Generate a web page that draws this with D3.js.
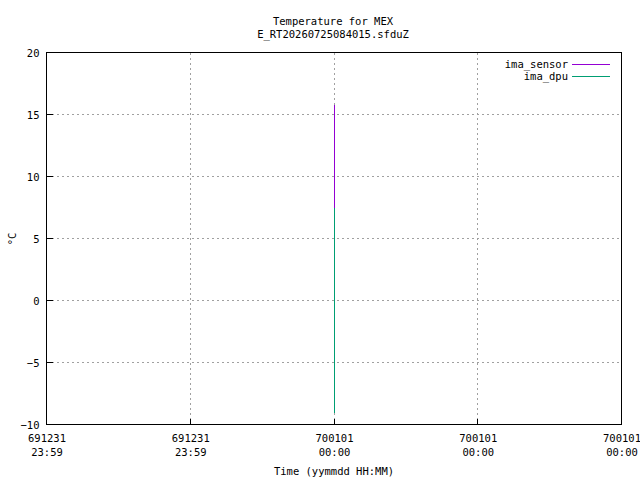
<!DOCTYPE html>
<html><head><meta charset="utf-8">
<script src="https://cdn.jsdelivr.net/npm/d3@7"></script>
<style>body{margin:0;background:#fff}text{font-family:"DejaVu Sans Mono",monospace;font-size:10.5px;fill:#000}line,path,rect{shape-rendering:crispEdges}</style>
</head><body><svg id="c" width="640" height="480"></svg>
<script>
// data (seconds relative to 1970-01-01 00:00 UTC)
const xTicks = [-40, -20, 0, 20, 40];
const yTicks = [-10, -5, 0, 5, 10, 15, 20];
const sensorTimes = [0, 0];
const sensorValues = [15.8, 7.5];
const dpuTimes = [0, 0];
const dpuValues = [7.5, -9.1];
const seriesNames = ["ima_sensor", "ima_dpu"];
const seriesColors = ["#9400d3", "#009e73"];

const svg = d3.select("#c");
const L = 46.5, R = 621.5, T = 52.5, B = 424.5;
const x = d3.scaleLinear().domain([-40, 40]).range([L, R]);
const y = d3.scaleLinear().domain([-10, 20]).range([B, T]);
const fmtD = d3.utcFormat("%y%m%d"), fmtT = d3.utcFormat("%H:%M");

// grid
const g = svg.append("g");
g.selectAll(".gx").data(xTicks.slice(1, -1)).enter().append("line")
  .attr("x1", d => x(d)).attr("x2", d => x(d)).attr("y1", T).attr("y2", B)
  .attr("stroke", "#a0a0a0").attr("stroke-dasharray", "2,3");
g.selectAll(".gy").data(yTicks.slice(1, -1)).enter().append("line")
  .attr("x1", L).attr("x2", R).attr("y1", d => y(d)).attr("y2", d => y(d))
  .attr("stroke", "#a0a0a0").attr("stroke-dasharray", "2,3");

// axes via d3
const yAxis = d3.axisLeft(y).tickValues(yTicks).tickSize(0).tickPadding(7);
const ya = svg.append("g").attr("transform", `translate(${L},0)`).call(yAxis);
ya.select(".domain").remove();
ya.selectAll("text").style("font-family", "DejaVu Sans Mono").style("font-size", "10.5px").attr("dy", "0.35em");
const xAxis = d3.axisBottom(x).tickValues(xTicks).tickSize(0).tickFormat(() => "");
const xa = svg.append("g").attr("transform", `translate(0,${B})`).call(xAxis);
xa.select(".domain").remove();
xa.selectAll(".tick").each(function(d){
  const t = d3.select(this).select("text").text(null).attr("y", null).attr("dy", null);
  const dt = new Date(d * 1000);
  t.append("tspan").attr("x", 0).attr("y", 14).attr("dy", "0.35em").text(fmtD(dt));
  t.append("tspan").attr("x", 0).attr("y", 28).attr("dy", "0.35em").text(fmtT(dt));
});
xa.selectAll("text").style("font-family", "DejaVu Sans Mono").style("font-size", "10.5px");
// small ticks
svg.selectAll(".ty").data(yTicks).enter().append("line")
  .attr("x1", L).attr("x2", L + 6).attr("y1", d => y(d)).attr("y2", d => y(d)).attr("stroke", "#000");
svg.selectAll(".tx").data(xTicks).enter().append("line")
  .attr("x1", d => x(d)).attr("x2", d => x(d)).attr("y1", B).attr("y2", B - 6).attr("stroke", "#000");

// series
const line = d3.line().x(d => x(d[0])).y(d => y(d[1]));
const series = [d3.zip(sensorTimes, sensorValues), d3.zip(dpuTimes, dpuValues)];
series.forEach((s, i) => {
  svg.append("path").datum(s).attr("d", line).attr("fill", "none")
    .attr("stroke", seriesColors[i]).attr("stroke-width", 1);
});

// border
svg.append("rect").attr("x", L).attr("y", T).attr("width", R - L).attr("height", B - T)
  .attr("fill", "none").attr("stroke", "#000");

// legend
seriesNames.forEach((n, i) => {
  const ly = 64 + i * 12;
  svg.append("text").attr("x", 568).attr("y", ly).attr("dy", "0.35em").attr("text-anchor", "end").text(n);
  svg.append("line").attr("x1", 572).attr("x2", 610).attr("y1", ly).attr("y2", ly)
    .attr("stroke", seriesColors[i]).attr("stroke-width", 1);
});

// titles
svg.append("text").attr("x", 333).attr("y", 21).attr("dy", "0.35em").attr("text-anchor", "middle").text("Temperature for MEX");
svg.append("text").attr("x", 333).attr("y", 34).attr("dy", "0.35em").attr("text-anchor", "middle").text("E_RT20260725084015.sfduZ");
svg.append("text").attr("x", 334).attr("y", 471).attr("dy", "0.35em").attr("text-anchor", "middle").text("Time (yymmdd HH:MM)");
svg.append("text").attr("transform", "translate(12,239) rotate(-90)").attr("dy", "0.35em").attr("text-anchor", "middle").text("°C");
</script></body></html>
